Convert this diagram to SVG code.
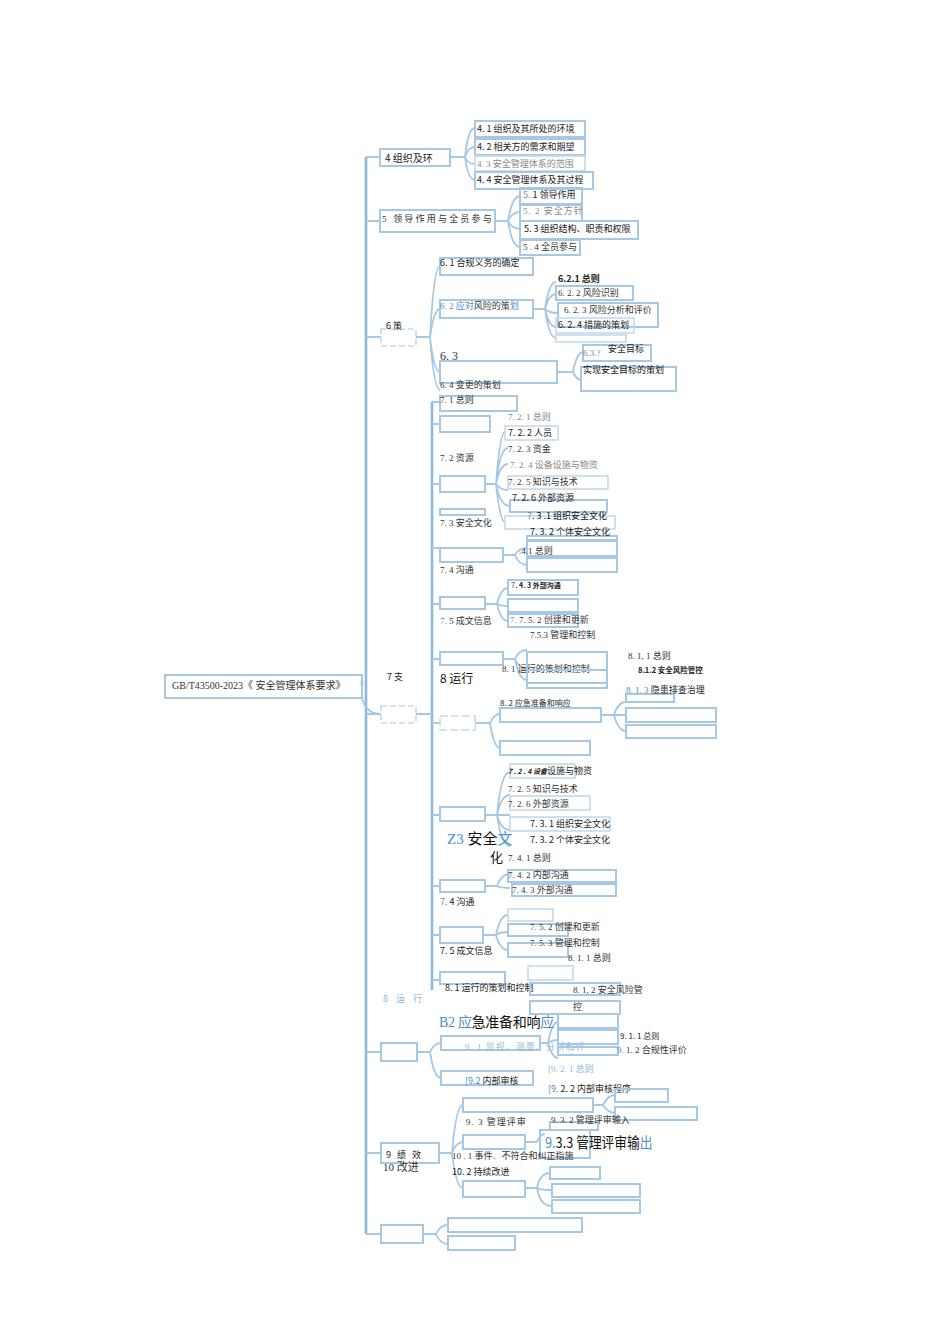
<svg xmlns="http://www.w3.org/2000/svg" width="950" height="1343" viewBox="0 0 950 1343">
<style>
.b{fill:none;stroke:#a6c8e4;stroke-width:2}
.bl{fill:none;stroke:#c3daee;stroke-width:1.6}
.c{fill:none;stroke:#a6c8e4;stroke-width:1.8}
.tr{fill:none;stroke:#8db9dc;stroke-width:2.6}
.t{font-family:"Noto Sans CJK SC",sans-serif;font-size:9px;fill:#222}
.s{font-family:"Liberation Serif","Noto Sans CJK SC",serif;font-size:9px;fill:#333}
.g{fill:#888}
.u{fill:#4a8fc9}
.k{fill:#111}
</style>
<rect width="950" height="1343" fill="#fff"/>
<g id="connectors">
<path class="tr" d="M362 686 V680 M366 157 V1234"/>
<path class="c" d="M366 157 H380 M366 221 H380 M366 337 H381 M366 714 H381 M366 1052 H381 M366 1153 H381 M366 1234 H381"/>
<path class="c" d="M362 698 Q366 714 381 714"/>
<path class="c" d="M450 157 H465 M465 157 Q468 128 475 128 M465 157 Q468 147 475 147 M465 157 Q468 164 475 164 M465 157 Q468 180 475 180"/>
<path class="c" d="M495 221 H508 M508 221 Q512 196 520 196 M508 221 Q512 212 520 212 M508 221 Q512 229 520 229 M508 221 Q512 247 520 247"/>
<path class="c" d="M416 337 H430 M430 337 Q434 266 440 266 M430 337 Q434 309 440 309 M430 337 Q434 372 440 372 M430 337 Q434 390 440 390"/>
<path class="c" d="M533 309 H545 M545 309 Q549 282 556 282 M545 309 Q549 294 556 294 M545 309 Q549 313 558 313 M545 309 Q549 327 556 327 M545 309 Q549 338 556 338"/>
<path class="c" d="M557 372 H573 M573 372 Q577 352 583 352 M573 372 Q577 380 581 380"/>
<path class="tr" d="M432 402 V990"/>
<path class="c" d="M416 714 H432 M432 402 H440 M432 424 H440 M432 484 H440 M432 548 H440 M432 604 H440 M432 659 H440 M432 723 H440 M432 815 H440 M432 886 H440 M432 935 H440 M432 980 H440"/>
<path class="c" d="M485 484 H496 M496 484 Q500 432 505 432 M496 484 Q500 448 508 448 M496 484 Q500 464 508 464 M496 484 Q500 490 508 490 M496 484 Q500 506 510 506 M496 484 Q500 522 505 522"/>
<path class="c" d="M503 555 H515 M515 555 Q519 548 527 548 M515 555 Q519 565 527 565"/>
<path class="c" d="M485 604 H497 M497 604 Q501 588 508 588 M497 604 Q501 606 508 606 M497 604 Q501 621 508 621"/>
<path class="c" d="M503 659 H515 M515 659 Q519 650 527 650 M515 659 Q519 668 527 668 M515 659 Q519 680 527 680"/>
<path class="c" d="M475 723 H490 M490 723 Q494 714 500 714 M490 723 Q494 748 500 748"/>
<path class="c" d="M601 715 H614 M614 715 Q618 702 626 702 M614 715 Q618 715 626 715 M614 715 Q618 731 626 731"/>
<path class="c" d="M485 815 H497 M497 815 Q501 772 510 772 M497 815 Q501 795 510 795 M497 815 Q501 815 510 815 M497 815 Q501 830 510 830 M497 815 Q501 846 510 846"/>
<path class="c" d="M485 886 H497 M497 886 Q501 874 510 874 M497 886 Q501 888 510 888"/>
<path class="c" d="M483 935 H496 M496 935 Q500 915 508 915 M496 935 Q500 932 508 932 M496 935 Q500 950 508 950"/>
<path class="c" d="M417 1052 H430 M430 1052 Q434 1043 441 1043 M430 1052 Q434 1078 441 1078"/>
<path class="c" d="M540 1043 H548 M548 1043 Q552 1022 558 1022 M548 1043 Q552 1040 558 1040 M548 1043 Q552 1058 558 1058"/>
<path class="c" d="M439 1153 H452 M452 1153 Q456 1105 463 1105 M452 1153 Q456 1142 463 1142 M452 1153 Q456 1188 463 1188"/>
<path class="c" d="M593 1105 H603 M603 1105 Q608 1095 615 1095 M603 1105 Q608 1113 615 1113"/>
<path class="c" d="M525 1142 H537 M537 1142 Q540 1134 545 1134"/>
<path class="c" d="M525 1188 H537 M537 1188 Q540 1173 550 1173 M537 1188 Q540 1190 552 1190 M537 1188 Q540 1206 552 1206"/>
<path class="c" d="M423 1234 H436 M436 1234 Q440 1225 448 1225 M436 1234 Q440 1244 448 1244"/>
</g>
<g id="root"><rect class="b" x="165" y="675" width="197" height="23"/><text class="s" x="172" y="689" style="font-size:10px">GB/T43500-2023《   安全管理体系要求》</text></g>
<g id="n4"><rect class="b" x="380" y="149" width="70" height="17"/><text class="t" x="385" y="162" style="font-size:10px">4 组织及环</text></g>
<g id="n41"><rect class="b" x="475" y="121" width="110" height="16"/><text class="t" x="477" y="132">4. 1 组织及其所处的环境</text></g>
<g id="n42"><rect class="b" x="475" y="139" width="110" height="16"/><text class="t" x="477" y="150">4. 2 相关方的需求和期望</text></g>
<g id="n43"><rect class="bl" x="475" y="156" width="110" height="15"/><text class="s g" x="477" y="167">4. 3 安全管理体系的范围</text></g>
<g id="n44"><rect class="b" x="475" y="172" width="118" height="17"/><text class="t" x="477" y="183">4. 4 安全管理体系及其过程</text></g>
<g id="n5"><rect class="b" x="380" y="210" width="115" height="22"/><text class="s" x="382" y="222" style="letter-spacing:2.2px">5 领导作用与全员参与</text></g>
<g id="n51"><rect class="b" x="520" y="188" width="62" height="16"/><text class="t" x="523" y="198"><tspan class="g">5.</tspan> 1  领导作用</text></g>
<g id="n52"><rect class="b" x="520" y="205" width="62" height="16"/><text class="s g" x="523" y="214" style="letter-spacing:1px">5. 2 安全方针</text></g>
<g id="n53"><rect class="b" x="520" y="221" width="118" height="18"/><text class="t k" x="524" y="232">5. 3 组织结构、职责和权限</text></g>
<g id="n54"><rect class="b" x="520" y="240" width="60" height="15"/><text class="s" x="523" y="250">5  . 4 全员参与</text></g>
<g id="n6"><rect class="bl" x="381" y="329" width="35" height="17" stroke-dasharray="6 3"/><text class="t" x="386" y="329">6  策</text></g>
<g id="n61"><rect class="b" x="440" y="258" width="93" height="17"/><text class="t" x="440" y="266">6. 1  合规义务的确定</text></g>
<g id="n62"><rect class="b" x="440" y="300" width="93" height="18"/><text class="s" x="440" y="309"><tspan class="u">6. 2  应对</tspan>风险的策<tspan class="u">划</tspan></text></g>
<g id="n621"><text class="t" x="558" y="282" style="font-weight:bold">6.2.1  总则</text></g>
<g id="n622"><rect class="b" x="556" y="286" width="77" height="14"/><text class="s" x="558" y="296">6. 2. 2 风险识别</text></g>
<g id="n623"><rect class="b" x="558" y="303" width="100" height="24"/><text class="s" x="564" y="313">6. 2. 3 风险分析和评价</text></g>
<g id="n624"><rect class="bl" x="556" y="318" width="78" height="15"/><text class="t" x="558" y="328">6. 2. 4 措施的策划</text></g>
<g id="n625"><rect class="bl" x="556" y="335" width="70" height="7"/></g>
<g id="n63"><rect class="b" x="440" y="361" width="117" height="22"/><text class="s" x="440" y="360" style="font-size:12px">6. 3</text></g>
<g id="n631"><rect class="b" x="583" y="345" width="68" height="16"/><text class="s g" x="583" y="356">6.3.?</text><text class="t" x="608" y="352">安全目标</text></g>
<g id="n632"><rect class="b" x="581" y="367" width="95" height="24"/><text class="t k" x="583" y="373">实现安全目标的策划</text></g>
<g id="n64"><text class="s" x="440" y="388">6. 4 变更的策划</text></g>
<g id="n7"><rect class="bl" x="381" y="706" width="35" height="17" stroke-dasharray="6 3"/><text class="t" x="387" y="680">7 支</text></g>
<g id="n71"><rect class="b" x="440" y="396" width="77" height="15"/><text class="s" x="440" y="403">7. 1  总则</text></g>
<g id="n7e"><rect class="b" x="440" y="416" width="50" height="16"/></g>
<g id="n72"><rect class="b" x="440" y="476" width="45" height="16"/><text class="s" x="440" y="461">7. 2    资源</text></g>
<g id="n721"><text class="s g" x="508" y="420">7. 2. 1 总则</text></g>
<g id="n722"><rect class="bl" x="505" y="426" width="53" height="14"/><text class="t" x="508" y="436">7. 2. 2 人员</text></g>
<g id="n723"><text class="s" x="508" y="452">7. 2. 3 资金</text></g>
<g id="n724"><text class="s g" x="510" y="468">7. 2. 4 设备设施与物资</text></g>
<g id="n725"><rect class="bl" x="508" y="476" width="100" height="13"/><text class="s" x="508" y="485">7. 2. 5 知识与技术</text></g>
<g id="n726"><rect class="b" x="510" y="500" width="97" height="12"/><text class="t" x="512" y="501">7. 2. 6 外部资源</text></g>
<g id="n73"><rect class="b" x="440" y="509" width="45" height="6"/><text class="s" x="440" y="526">7. 3    安全文化</text></g>
<g id="n731"><rect class="bl" x="505" y="516" width="110" height="13"/><text class="t k" x="527" y="519"><tspan class="u">7</tspan>. 3 .1 组织安全文化</text></g>
<g id="n732"><rect class="b" x="527" y="536" width="90" height="4"/><text class="t" x="530" y="535">7. 3. 2  个体安全文化</text></g>
<g id="n74"><rect class="b" x="440" y="548" width="63" height="14"/><text class="s" x="440" y="573">7. 4      沟通</text></g>
<g id="n741"><rect class="b" x="527" y="541" width="90" height="15"/><text class="s" x="519" y="554">.4.1  总则</text></g>
<g id="n742"><rect class="b" x="527" y="558" width="90" height="14"/></g>
<g id="n75"><rect class="b" x="440" y="597" width="45" height="12"/><text class="s" x="440" y="624"><tspan class="u">7.</tspan>   5 成文信息</text></g>
<g id="n743"><rect class="b" x="508" y="580" width="70" height="15"/><text class="t" x="511" y="588" style="font-size:7px;font-weight:bold"><tspan class="g">7</tspan>. 4. 3 外部沟通</text></g>
<g id="n75e"><rect class="b" x="508" y="599" width="70" height="13"/></g>
<g id="n752"><rect class="b" x="508" y="614" width="70" height="13"/><text class="s" x="510" y="623"><tspan class="g">7.</tspan>      7. 5. 2 创建和更新</text></g>
<g id="n753"><text class="s" x="530" y="638">7.5.3   管理和控制</text></g>
<g id="n81"><rect class="b" x="440" y="652" width="63" height="13"/><text class="s" x="502" y="672">8. 1  运行的策划和控制</text></g>
<g id="n81a"><rect class="b" x="527" y="652" width="80" height="31"/><rect class="b" x="527" y="670" width="80" height="18"/></g>
<g id="n811"><text class="s" x="628" y="659">8. 1, 1  总则</text></g>
<g id="n812"><text class="t" x="638" y="673" style="font-size:7.5px;font-weight:bold">8.1.2 安全风险管控</text></g>
<g id="n813"><rect class="b" x="626" y="694" width="48" height="8"/><text class="t" x="626" y="693"><tspan class="u" font-family="Liberation Serif">8. 1. 3 </tspan>隐患排查治理</text></g>
<g id="n8"><text class="t k" x="440" y="683" style="font-size:12px">8 运行</text></g>
<g id="n82"><rect class="bl" x="440" y="716" width="35" height="14" stroke-dasharray="8 3"/><text class="t" x="500" y="706" style="font-size:8px">8. 2 应急准备和响应</text></g>
<g id="n82a"><rect class="b" x="500" y="708" width="101" height="14"/><rect class="b" x="500" y="741" width="90" height="14"/></g>
<g id="n82b"><rect class="b" x="626" y="708" width="90" height="14"/><rect class="b" x="626" y="725" width="90" height="13"/></g>
<g id="n72b"><rect class="b" x="440" y="807" width="45" height="14"/></g>
<g id="n724b"><rect class="bl" x="510" y="764" width="65" height="14"/><text class="t" x="508" y="774"><tspan font-style="italic" style="font-size:7px;font-weight:bold">7 . 2 . 4 设备</tspan>设施与物资</text></g>
<g id="n725b"><text class="s" x="508" y="792">7. 2. 5 知识与技术</text></g>
<g id="n726b"><rect class="bl" x="510" y="796" width="80" height="14"/><text class="s" x="508" y="807">7. 2. 6 外部资源</text></g>
<g id="n731b"><rect class="bl" x="510" y="817" width="100" height="14"/><text class="t" x="530" y="827">7. 3. 1  组织安全文化</text></g>
<g id="n732b"><text class="t" x="530" y="843">7. 3. 2 个体安全文化</text></g>
<g id="n73b"><text x="447" y="844" style="font-family:'Liberation Serif','Noto Sans CJK SC',serif;font-size:15px"><tspan class="u">Z3</tspan> <tspan fill="#111">安全</tspan><tspan class="u">文</tspan></text><text x="490" y="862" style="font-family:'Noto Sans CJK SC',sans-serif;font-size:13px" fill="#111">化</text></g>
<g id="n741b"><text class="s" x="508" y="861">7. 4. 1  总则</text></g>
<g id="n742b"><rect class="b" x="508" y="870" width="108" height="12"/><text class="s" x="508" y="878">7. 4. 2 内部沟通</text></g>
<g id="n743b"><rect class="b" x="512" y="884" width="104" height="12"/><text class="s" x="512" y="893">7. 4. 3 外部沟通</text></g>
<g id="n74b"><rect class="b" x="440" y="880" width="45" height="12"/><text class="t" x="440" y="905"><tspan class="u">7.</tspan> 4 沟通</text></g>
<g id="n75b"><rect class="b" x="440" y="927" width="43" height="16"/><text class="t" x="440" y="954">7. 5 成文信息</text></g>
<g id="n75ba"><rect class="bl" x="508" y="909" width="45" height="12"/><rect class="b" x="508" y="924" width="60" height="12"/><rect class="b" x="508" y="943" width="60" height="14"/></g>
<g id="n752b"><text class="s" x="530" y="930">7. 5. 2 创建和更新</text></g>
<g id="n753b"><text class="s" x="530" y="946">7. 5. 3 管理和控制</text></g>
<g id="n81b"><rect class="b" x="440" y="972" width="65" height="12"/><text class="t" x="445" y="991">8. 1  运行的策划和控制</text></g>
<g id="n81ba"><rect class="bl" x="528" y="966" width="45" height="14"/><rect class="b" x="530" y="983" width="90" height="12"/><rect class="b" x="530" y="1001" width="90" height="13"/></g>
<g id="n811b"><text class="s" x="568" y="961">8. 1. 1  总则</text></g>
<g id="n812b"><text class="s" x="573" y="993">8. 1, 2 安全风险管</text><text class="s" x="573" y="1010">控</text></g>
<g id="n8b"><text class="t u" x="383" y="1002" style="letter-spacing:3px;fill:#8db9dc">8 运 行</text></g>
<g id="n82c"><text x="439" y="1027" style="font-family:'Liberation Serif','Noto Sans CJK SC',serif;font-size:14px;letter-spacing:-0.3px"><tspan class="u">B2 应</tspan><tspan fill="#111">急准备和响</tspan><tspan class="u">应</tspan></text></g>
<g id="n9x"><rect class="b" x="381" y="1043" width="36" height="18"/></g>
<g id="n91"><rect class="b" x="441" y="1036" width="99" height="14"/><text class="s" x="465" y="1050" style="fill:#9bbad3;letter-spacing:1px">9. 1 监视、测量、分析和评</text></g>
<g id="n91a"><rect class="b" x="558" y="1014" width="60" height="14"/><rect class="b" x="558" y="1030" width="60" height="14"/><rect class="b" x="558" y="1047" width="60" height="8"/></g>
<g id="n911"><text class="t" x="620" y="1039" style="font-size:8px">9. 1. 1  总则</text></g>
<g id="n912"><text class="s" x="617" y="1053"><tspan class="u">9.</tspan>   1. 2 合规性评价</text></g>
<g id="n921"><text class="s u" x="548" y="1072" style="fill:#8db9dc">[9. 2. 1 总则</text></g>
<g id="n92"><rect class="b" x="441" y="1071" width="92" height="14"/><text class="t" x="465" y="1084"><tspan class="u">[9.2</tspan>  内部审核</text></g>
<g id="n922"><text class="t" x="548" y="1092"><tspan class="u">[9.</tspan> 2. 2  内部审核程序</text></g>
<g id="n92a"><rect class="b" x="615" y="1089" width="53" height="13"/><rect class="b" x="615" y="1107" width="82" height="13"/></g>
<g id="n93"><rect class="b" x="463" y="1098" width="130" height="14"/><text class="s" x="466" y="1125" style="letter-spacing:1px">9. 3 管理评审</text></g>
<g id="n932"><rect class="b" x="550" y="1122" width="48" height="8"/><text class="s" x="551" y="1123">9. 3. 2   管理评审输入</text></g>
<g id="n933"><rect class="b" x="540" y="1130" width="50" height="28"/><text transform="translate(545 1148) scale(0.85 1)" x="0" y="0" style="font-family:'Noto Sans CJK SC',sans-serif;font-size:15px" fill="#111"><tspan class="u">9.</tspan>3.3 管理评审输<tspan class="u">出</tspan></text></g>
<g id="n9"><rect class="b" x="381" y="1143" width="58" height="20"/><text class="t" x="386" y="1158" style="letter-spacing:2px">9 绩 效</text><text class="s" x="383" y="1171" style="font-size:11px">10 改进</text></g>
<g id="n101"><rect class="b" x="463" y="1135" width="62" height="14"/><text class="s" x="452" y="1159">10  . 1 事件<tspan class="u">、</tspan>不符合和纠正指施</text></g>
<g id="n102"><rect class="b" x="463" y="1181" width="62" height="16"/><text class="t" x="452" y="1175">10. 2 持续改进</text></g>
<g id="n102a"><rect class="b" x="550" y="1167" width="50" height="12"/><rect class="b" x="552" y="1184" width="88" height="13"/><rect class="b" x="552" y="1200" width="88" height="13"/></g>
<g id="n10"><rect class="b" x="381" y="1225" width="42" height="18"/></g>
<g id="n10a"><rect class="b" x="448" y="1218" width="134" height="14"/><rect class="b" x="448" y="1236" width="67" height="14"/></g>
</svg>
